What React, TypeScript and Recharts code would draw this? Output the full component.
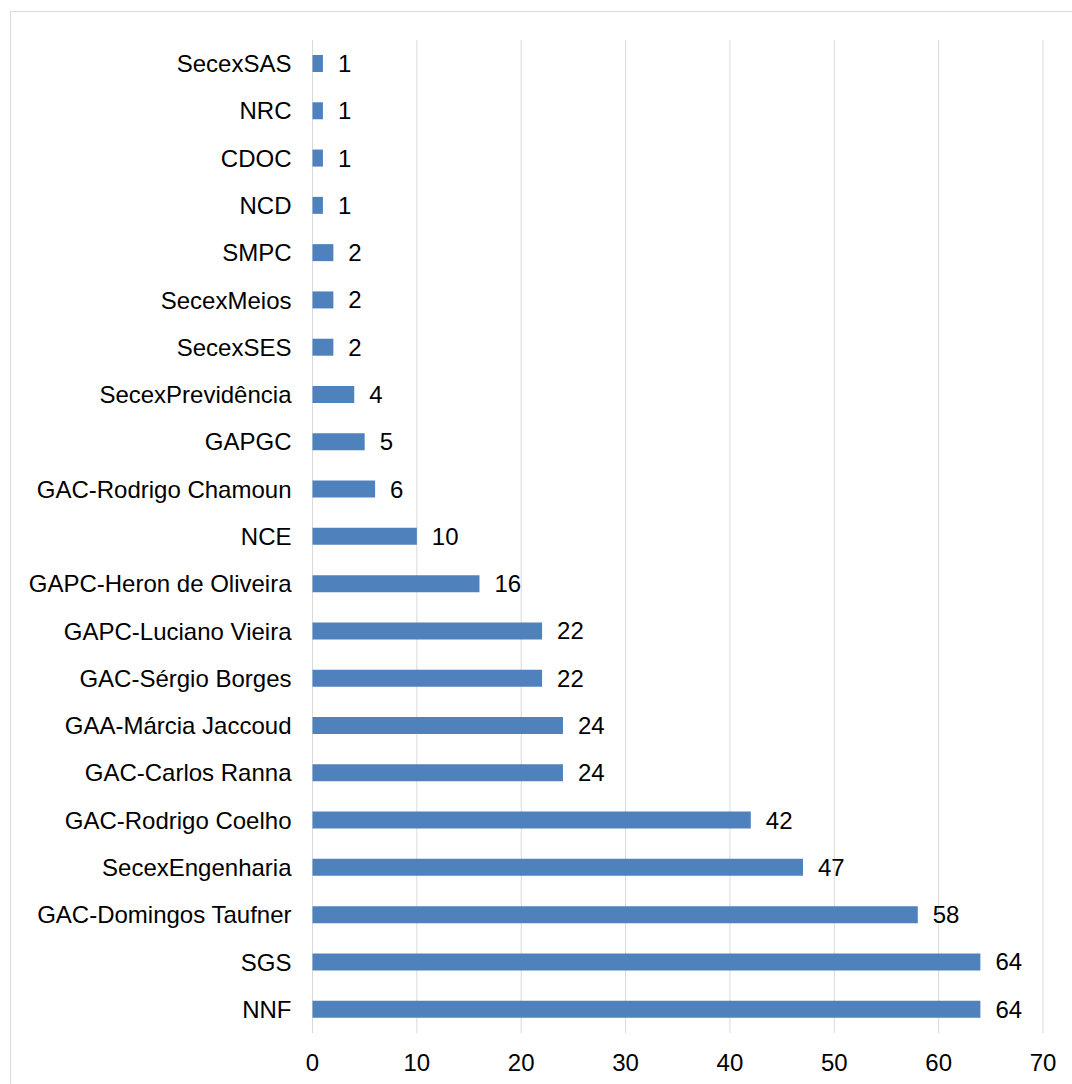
import React from "react";
import { BarChart, Bar, XAxis, YAxis, CartesianGrid, LabelList } from "recharts";

const categories = [
  "SecexSAS", "NRC", "CDOC", "NCD", "SMPC", "SecexMeios", "SecexSES",
  "SecexPrevidência", "GAPGC", "GAC-Rodrigo Chamoun", "NCE",
  "GAPC-Heron de Oliveira", "GAPC-Luciano Vieira", "GAC-Sérgio Borges",
  "GAA-Márcia Jaccoud", "GAC-Carlos Ranna", "GAC-Rodrigo Coelho",
  "SecexEngenharia", "GAC-Domingos Taufner", "SGS", "NNF",
];
const values = [1, 1, 1, 1, 2, 2, 2, 4, 5, 6, 10, 16, 22, 22, 24, 24, 42, 47, 58, 64, 64];
const xTicks = [0, 10, 20, 30, 40, 50, 60, 70];

const data = categories.map((name, i) => ({ name, value: values[i] }));

const FONT = '"Liberation Sans", Arial, sans-serif';
const FS = 24;

export default function App() {
  return (
    <div style={{ position: "fixed", left: 0, top: 0, width: 1072, height: 1084, overflow: "hidden", background: "#fff" }}>
      <div
        style={{
          position: "absolute",
          left: 10,
          top: 11,
          width: 1100,
          height: 1100,
          border: "1px solid #d9d9d9",
          boxSizing: "border-box",
          fontFamily: FONT,
        }}
      >
        <BarChart
          width={1060}
          height={1070}
          data={data}
          layout="vertical"
          margin={{ top: 28, right: 28, bottom: 19, left: 0.5 }}
          barCategoryGap={0}
        >
          <CartesianGrid horizontal={false} vertical={true} stroke="#d9d9d9" strokeWidth={1} />
          <XAxis
            type="number"
            domain={[0, 70]}
            ticks={xTicks}
            axisLine={false}
            tickLine={false}
            tickSize={19}
            tickMargin={2}
            height={30}
            interval={0}
            tick={{ fill: "#000", fontSize: FS, fontFamily: FONT }}
          />
          <YAxis
            type="category"
            dataKey="name"
            width={301}
            axisLine={false}
            tickLine={false}
            tickSize={20}
            tickMargin={1}
            interval={0}
            tick={{ fill: "#000", fontSize: FS, fontFamily: FONT }}
          />
          <Bar dataKey="value" fill="#4F81BD" barSize={17} isAnimationActive={false}>
            <LabelList
              dataKey="value"
              position="right"
              offset={15}
              fill="#000"
              fontSize={FS}
              fontFamily={FONT}
            />
          </Bar>
        </BarChart>
      </div>
    </div>
  );
}
